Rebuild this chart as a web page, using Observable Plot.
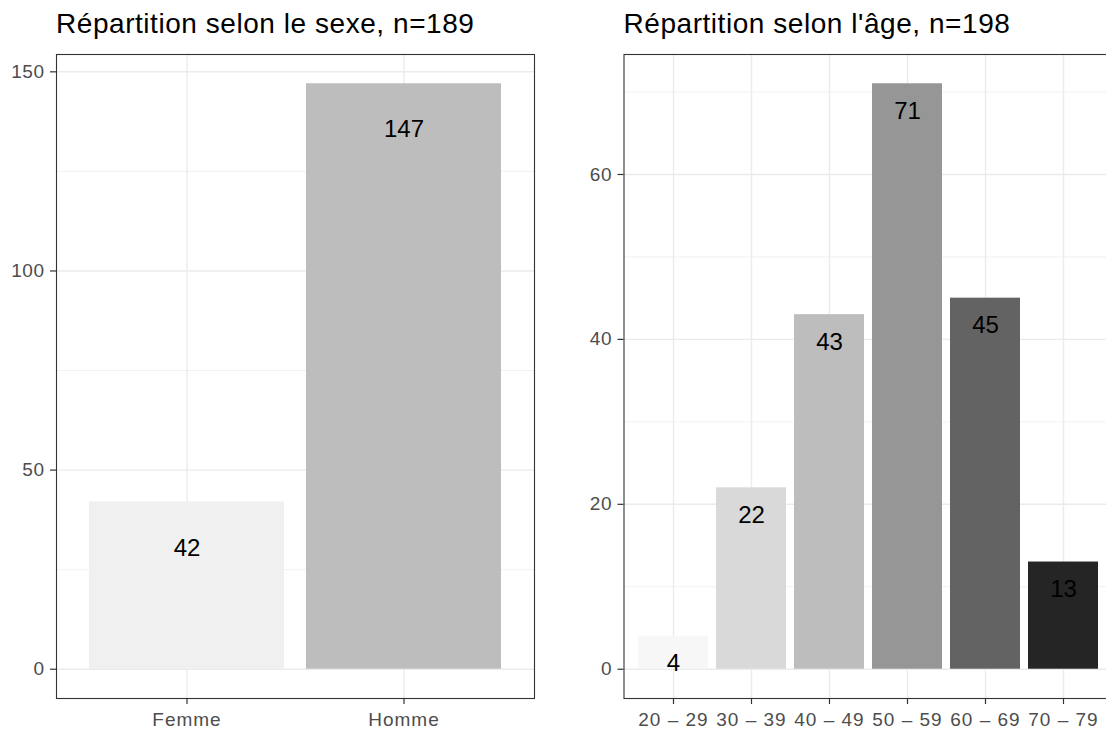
<!DOCTYPE html>
<html><head><meta charset="utf-8">
<script src="https://cdn.jsdelivr.net/npm/d3@7"></script>
<script src="https://cdn.jsdelivr.net/npm/@observablehq/plot@0.6"></script>
<style>
html,body{margin:0;padding:0;background:#fff;overflow:hidden;width:1106px;height:731px;}
#root{position:relative;width:1106px;height:731px;overflow:hidden;font-family:"Liberation Sans",Arial,sans-serif;}
.panel{position:absolute;top:0;height:731px;}
.title{position:absolute;top:10px;font-size:28px;line-height:28px;letter-spacing:0.55px;color:#000;white-space:nowrap;}
.panel svg{position:absolute;top:40px;left:0;}
g[aria-label="x-axis tick label"] text{letter-spacing:1px;}
g[aria-label="y-axis tick label"] text{letter-spacing:0.5px;}
</style></head><body><div id="root"></div>
<script>
// ---- data ----
const sexTitle = "Répartition selon le sexe, n=189";
const sexCategories = ["Femme", "Homme"];
const sexCounts = [42, 147];
const sexYTicks = [0, 50, 100, 150];
const sexYMinorTicks = [25, 75, 125];

const ageTitle = "Répartition selon l'âge, n=198";
const ageCategories = ["20 – 29", "30 – 39", "40 – 49", "50 – 59", "60 – 69", "70 – 79"];
const ageCounts = [4, 22, 43, 71, 45, 13];
const ageYTicks = [0, 20, 40, 60];
const ageYMinorTicks = [10, 30, 50, 70];

function makePanel(cfg) {
  const data = cfg.cats.map((c, i) => ({cat: c, n: cfg.counts[i]}));
  const max = d3.max(cfg.counts);
  const panel = document.createElement("div");
  panel.className = "panel";
  panel.style.left = cfg.left + "px";
  panel.style.width = (cfg.marginLeft + cfg.plotWidth + cfg.marginRight) + "px";
  const t = document.createElement("div");
  t.className = "title";
  t.style.left = cfg.marginLeft + "px";
  t.textContent = cfg.title;
  panel.appendChild(t);
  const chart = Plot.plot({
    width: cfg.marginLeft + cfg.plotWidth + cfg.marginRight,
    height: 691,
    marginLeft: cfg.marginLeft,
    marginRight: cfg.marginRight,
    marginTop: 14,
    marginBottom: 33,
    style: {fontFamily: '"Liberation Sans", Arial, sans-serif', background: "#fff", overflow: "visible"},
    x: {domain: cfg.cats, paddingInner: 0.1, paddingOuter: 0.15, axis: null},
    y: {domain: [-0.05 * max, 1.05 * max], axis: null},
    color: {domain: cfg.cats, range: cfg.palette},
    marks: [
      Plot.gridY(cfg.minor, {stroke: "#ebebeb", strokeOpacity: 1, strokeWidth: 0.7}),
      Plot.gridY(cfg.ticks, {stroke: "#ebebeb", strokeOpacity: 1, strokeWidth: 1.4}),
      Plot.gridX(cfg.cats, {stroke: "#ebebeb", strokeOpacity: 1, strokeWidth: 1.4}),
      Plot.barY(data, {x: "cat", y: "n", fill: "cat"}),
      Plot.text(data, {x: "cat", y: "n", text: d => String(d.n), dy: cfg.labelDy, fontSize: 24, fill: "#000"}),
      Plot.frame({stroke: "#333", strokeWidth: 1.1}),
      Plot.axisY(cfg.ticks, {label: null, tickSize: 6, tickPadding: 6, fontSize: 19, stroke: "#333", strokeOpacity: 1, fill: "#4d4d4d", strokeWidth: 1.2}),
      Plot.axisX(cfg.cats, {label: null, tickSize: 6, tickPadding: 8, fontSize: 19, stroke: "#333", strokeOpacity: 1, fill: "#4d4d4d", strokeWidth: 1.2})
    ]
  });
  panel.appendChild(chart);
  document.getElementById("root").appendChild(panel);
}

makePanel({
  title: sexTitle, cats: sexCategories, counts: sexCounts,
  ticks: sexYTicks, minor: sexYMinorTicks,
  palette: ["#f0f0f0", "#bdbdbd"],
  left: 0, marginLeft: 56, plotWidth: 478, marginRight: 26, labelDy: 46
});
makePanel({
  title: ageTitle, cats: ageCategories, counts: ageCounts,
  ticks: ageYTicks, minor: ageYMinorTicks,
  palette: ["#f7f7f7", "#d9d9d9", "#bdbdbd", "#969696", "#636363", "#252525"],
  left: 560, marginLeft: 63.5, plotWidth: 489.5, marginRight: 10, labelDy: 27.5
});
</script>
</body></html>
